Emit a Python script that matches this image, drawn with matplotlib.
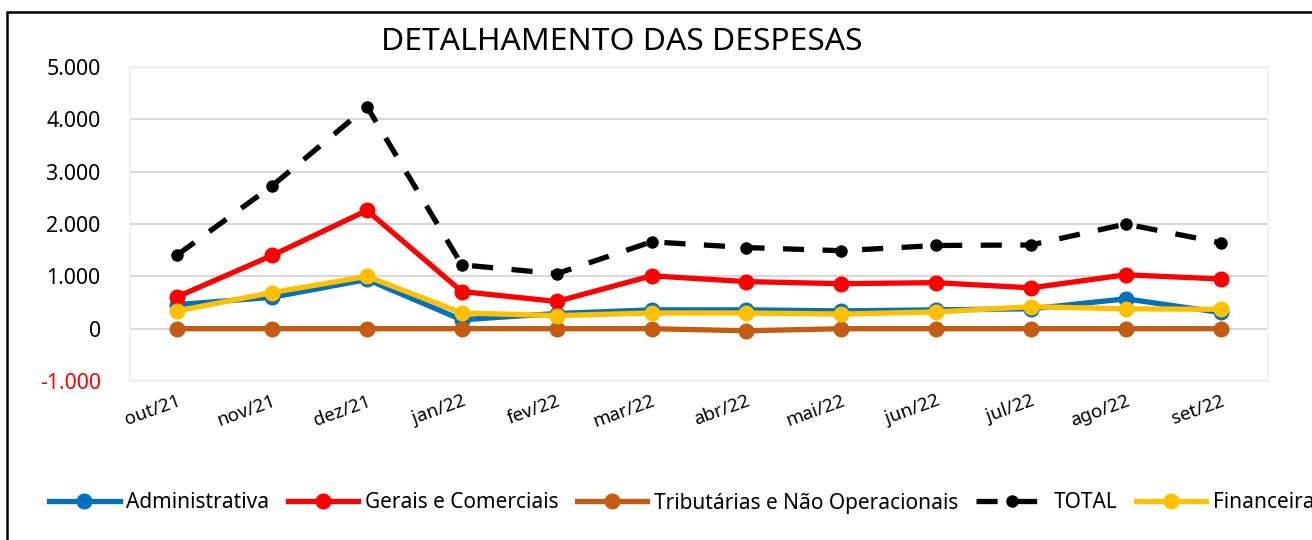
import matplotlib.pyplot as plt
from matplotlib.patches import Rectangle
from matplotlib.ticker import FuncFormatter

plt.rcParams['font.family'] = ['Noto Sans', 'DejaVu Sans']

# Data (valores em milhares)
meses = ["out/21", "nov/21", "dez/21", "jan/22", "fev/22", "mar/22",
         "abr/22", "mai/22", "jun/22", "jul/22", "ago/22", "set/22"]
administrativa = [460, 600, 940, 170, 290, 360, 360, 340, 360, 380, 570, 310]
gerais_comerciais = [610, 1400, 2260, 710, 520, 1010, 900, 860, 880, 780, 1030, 950]
tributarias = [0, 0, 0, 0, 0, 0, -40, 0, 0, 0, 0, 0]
total = [1410, 2730, 4240, 1220, 1050, 1660, 1550, 1490, 1590, 1600, 2000, 1640]
financeira = [340, 690, 1000, 300, 250, 300, 300, 280, 320, 420, 380, 370]

fig = plt.figure(figsize=(13.12, 5.4), dpi=100)
ax = fig.add_axes([0.099, 0.2944, 0.8675, 0.5815])

x = range(len(meses))
lw = 3.8
ms = 10.5
ax.plot(x, administrativa, color="#0070C0", lw=lw, marker="o", ms=ms, label="Administrativa")
ax.plot(x, gerais_comerciais, color="#FF0000", lw=lw, marker="o", ms=ms, label="Gerais e Comerciais")
ax.plot(x, tributarias, color="#C55A11", lw=lw, marker="o", ms=ms, label="Tributárias e Não Operacionais")
ax.plot(x, total, color="black", lw=lw, marker="o", ms=8, dashes=(4, 3.5), label="TOTAL")
ax.plot(x, financeira, color="#FFC000", lw=lw, marker="o", ms=ms, label="Financeira")

ax.set_xlim(-0.5, len(meses) - 0.5)
ax.set_ylim(-1000, 5000)
ax.set_yticks(range(-1000, 5001, 1000))
ax.yaxis.set_major_formatter(FuncFormatter(lambda v, p: f"{int(v):,}".replace(",", ".")))
ax.grid(axis="y", color="#D9D9D9", lw=1.5)
ax.set_axisbelow(True)
for s in ax.spines.values():
    s.set_color("#F0F0F0")
    s.set_linewidth(1.2)
ax.tick_params(axis="y", length=0, labelsize=15.4, pad=21)
ax.set_xticks(list(x))
ax.set_xticklabels(meses, rotation=20, ha="right", rotation_mode="anchor", fontsize=13.5)
ax.tick_params(axis="x", length=0, pad=8)
for lbl in ax.get_yticklabels():
    if lbl.get_text().startswith("-"):
        lbl.set_color("red")

fig.text(0.474, 0.922, "DETALHAMENTO DAS DESPESAS", ha="center", va="center", fontsize=22.9)

fig.legend(loc="center left", bbox_to_anchor=(0.031, 1 - 503 / 540), ncol=5, frameon=False,
           fontsize=15, handlelength=3.4, handletextpad=0.3, columnspacing=0.88, borderaxespad=0)

fig.patches.append(Rectangle((7 / 1312, -0.1), 1.2, 1 - 12 / 540 + 0.1, transform=fig.transFigure,
                             fill=False, edgecolor="black", lw=1.8))

fig.savefig("out.png", dpi=100)
